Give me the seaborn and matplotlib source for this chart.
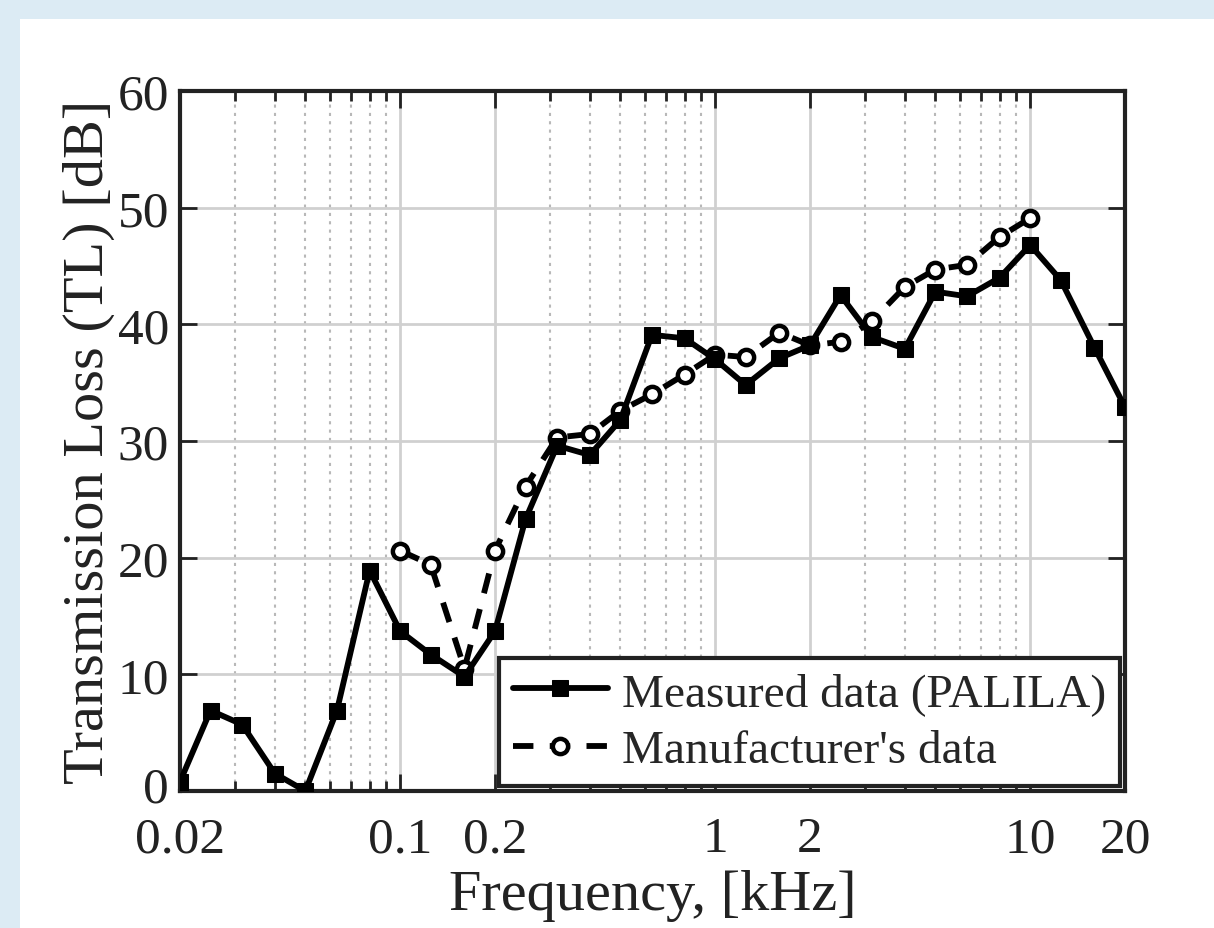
import numpy as np
import pandas as pd
import matplotlib
matplotlib.use("Agg")
import matplotlib.pyplot as plt
import matplotlib.transforms as mtransforms
import seaborn as sns
from matplotlib.ticker import FixedLocator, NullFormatter

freq_measured = [0.02, 0.025, 0.0315, 0.04, 0.05, 0.063, 0.08, 0.1, 0.125, 0.16, 0.2, 0.25,
                 0.315, 0.4, 0.5, 0.63, 0.8, 1.0, 1.25, 1.6, 2.0, 2.5, 3.15, 4.0, 5.0, 6.3,
                 8.0, 10.0, 12.5, 16.0, 20.0]
tl_measured = [0.8, 6.9, 5.7, 1.5, 0.0, 6.9, 18.9, 13.7, 11.7, 9.8, 13.7, 23.3,
               29.6, 28.8, 31.8, 39.1, 38.8, 37.0, 34.8, 37.1, 38.2, 42.5, 38.9, 37.9, 42.8, 42.4,
               44.0, 46.8, 43.8, 38.0, 32.9]

freq_manuf = [0.1, 0.125, 0.16, 0.2, 0.25, 0.315, 0.4, 0.5, 0.63, 0.8, 1.0, 1.25, 1.6, 2.0,
              2.5, 3.15, 4.0, 5.0, 6.3, 8.0, 10.0]
tl_manuf = [20.6, 19.4, 10.5, 20.6, 26.1, 30.3, 30.6, 32.6, 34.0, 35.7, 37.4, 37.2, 39.3, 38.2,
            38.5, 40.3, 43.2, 44.7, 45.1, 47.5, 49.1]

major_ticks = [0.02, 0.1, 0.2, 1, 2, 10, 20]
major_labels = ["0.02", "0.1", "0.2", "1", "2", "10", "20"]
minor_ticks = [0.03, 0.04, 0.05, 0.06, 0.07, 0.08, 0.09,
               0.3, 0.4, 0.5, 0.6, 0.7, 0.8, 0.9,
               3, 4, 5, 6, 7, 8, 9]
y_ticks = [0, 10, 20, 30, 40, 50, 60]

sns.set_style("white")
plt.rcParams['font.family'] = ['Liberation Serif', 'DejaVu Serif']

fig = plt.figure(figsize=(12.14, 9.29), dpi=100)
fig.patch.set_facecolor("#dcebf4")
fig.add_artist(plt.Rectangle((20/1214, 0), 1 - 20/1214, 1 - 20/929,
                             transform=fig.transFigure, facecolor="white", edgecolor="none", zorder=0))

ax = fig.add_axes([180/1214, 1 - 792/929, (1125-180)/1214, (792-92)/929])
ax.set_xscale("log")

df_m = pd.DataFrame({"f": freq_measured, "tl": tl_measured})
df_n = pd.DataFrame({"f": freq_manuf, "tl": tl_manuf})

sns.lineplot(data=df_m, x="f", y="tl", ax=ax, color="black", linewidth=4.2,
             marker="s", markersize=12, markeredgecolor="black", markerfacecolor="black",
             label="Measured data (PALILA)", zorder=5)
sns.lineplot(data=df_n, x="f", y="tl", ax=ax, color="black", linewidth=4.2,
             linestyle=(0, (3.5, 2.8)), marker="o", markersize=11, markeredgewidth=3.2,
             markeredgecolor="black", markerfacecolor="white",
             label="Manufacturer's data", zorder=4)

ax.set_xlim(0.02, 20)
ax.set_ylim(0, 60)
ax.xaxis.set_major_locator(FixedLocator(major_ticks))
ax.set_xticklabels(major_labels)
ax.xaxis.set_minor_locator(FixedLocator(minor_ticks))
ax.xaxis.set_minor_formatter(NullFormatter())
ax.set_yticks(y_ticks)

ax.grid(True, which="major", color="#d0d0d0", linewidth=2, linestyle="-")
ax.grid(True, which="minor", axis="x", color="#b8b8b8", linewidth=1.5, linestyle=(0, (1.5, 2.5)))
ax.set_axisbelow(True)

ax.tick_params(which="both", direction="in", top=True, right=True, bottom=True, left=True,
               colors="#222222", labelsize=37, width=2)
ax.tick_params(which="major", length=12)
ax.tick_params(axis="x", which="major", pad=18)
ax.tick_params(axis="y", which="major", pad=8)
ax.tick_params(which="minor", length=7)
ylabels = ax.get_yticklabels()
for lbl in ylabels:
    lbl.set_verticalalignment("center_baseline")
# nudge the bottom "0" label slightly up so it does not collide with "0.02"
ylabels[0].set_transform(ylabels[0].get_transform() +
                         mtransforms.ScaledTranslation(0, 5/72, fig.dpi_scale_trans))
for s in ax.spines.values():
    s.set_color("#222222")
    s.set_linewidth(3)
    s.set_visible(True)

ax.set_xlabel("Frequency, [kHz]", fontsize=42, color="#222222", labelpad=5)
ax.set_ylabel("Transmission Loss (TL) [dB]", fontsize=42, color="#222222", labelpad=2)

leg = ax.legend(loc="lower right", fontsize=34, frameon=True, fancybox=False,
                edgecolor="#222222", framealpha=1, handlelength=2.0, borderpad=0.3,
                labelspacing=0.3, handletextpad=0.3, borderaxespad=0.1)
leg.get_frame().set_linewidth(3)

fig.savefig("out.png", dpi=100, facecolor=fig.get_facecolor())
